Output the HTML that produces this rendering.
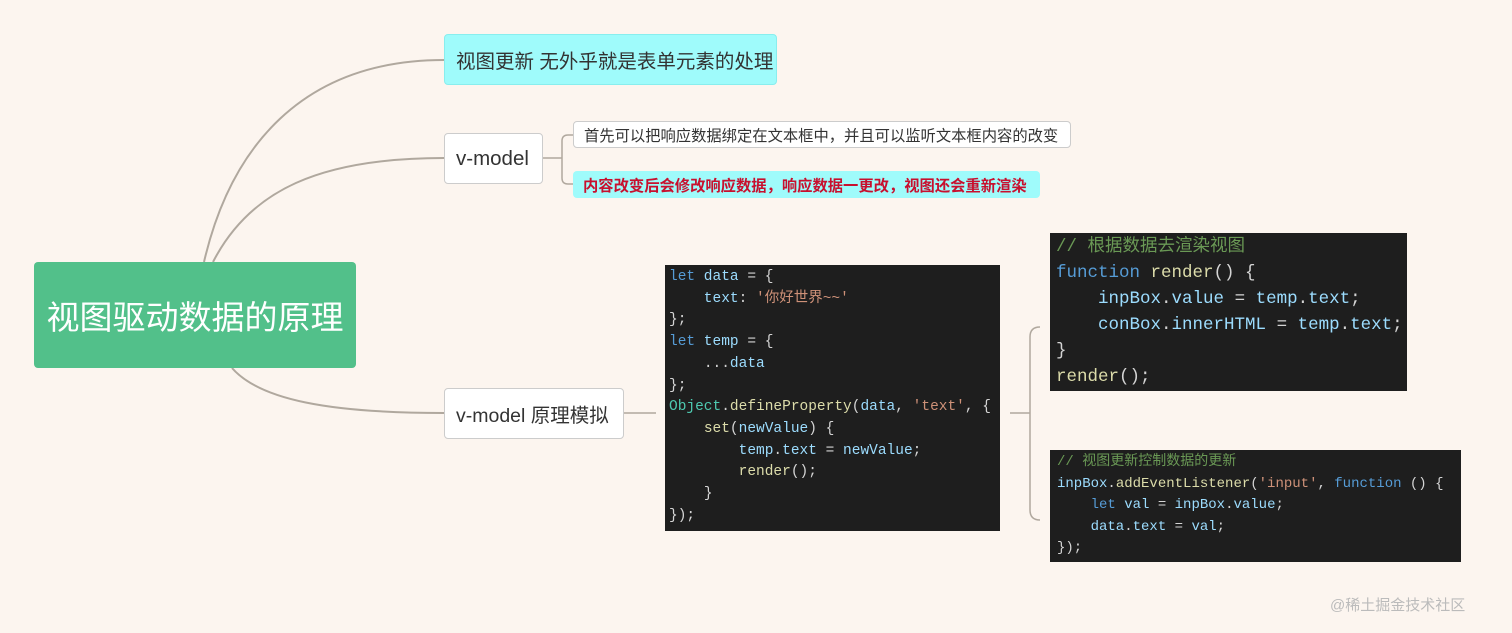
<!DOCTYPE html>
<html><head><meta charset="utf-8"><style>
body{margin:0;width:1512px;height:633px;background:#fcf5ef;position:relative;overflow:hidden;font-family:"Liberation Sans","Noto Sans CJK SC",sans-serif}
.n{position:absolute;box-sizing:border-box;border-radius:4px;display:flex;align-items:center;color:#333;white-space:nowrap}
.code{position:absolute;background:#1e1e1e;font-family:"Liberation Mono","Noto Sans CJK SC",monospace;color:#9cdcfe;white-space:pre;box-sizing:border-box}
.k{color:#569cd6}.s{color:#ce9178}.f{color:#dcdcaa}.c{color:#6a9955}.w{color:#d4d4d4}.t{color:#4ec9b0}
</style></head><body>
<svg width="1512" height="633" style="position:absolute;left:0;top:0" fill="none" stroke="#b0a89e" stroke-width="2">
<path d="M204 262 C230 150 300 60 444 60"/>
<path d="M213 262 C250 190 320 158 444 158"/>
<path d="M232 368 C260 400 330 413 444 413"/>
<path d="M543 158 H562 M573 135 H568 Q562 135 562 141 V178 Q562 184 568 184 H573" stroke-width="1.5"/>
<path d="M624 413 H656" stroke-width="1.5"/>
<path d="M1010 413 H1030 M1040 327 Q1030 327 1030 337 V510 Q1030 520 1040 520" stroke-width="1.5"/>
</svg>
<div class="n" style="left:34px;top:262px;width:322px;height:106px;background:#52c08a;color:#fff;font-size:33px;justify-content:center">视图驱动数据的原理</div>
<div class="n" style="left:444px;top:34px;width:333px;height:51px;background:#9ffbfb;border:1px solid #8ee;font-size:19.5px;padding-left:11px">视图更新 无外乎就是表单元素的处理</div>
<div class="n" style="left:444px;top:133px;width:99px;height:51px;background:#fff;border:1px solid #ccc;font-size:20.5px;padding-left:11px">v-model</div>
<div class="n" style="left:573px;top:121px;width:498px;height:27px;background:#fff;border:1px solid #ccc;font-size:15.3px;padding-left:10px">首先可以把响应数据绑定在文本框中，并且可以监听文本框内容的改变</div>
<div class="n" style="left:573px;top:171px;width:467px;height:27px;background:#9ffbfb;font-size:15.3px;padding-left:10px;color:#c8102e;font-weight:bold">内容改变后会修改响应数据，响应数据一更改，视图还会重新渲染</div>
<div class="n" style="left:444px;top:388px;width:180px;height:51px;background:#fff;border:1px solid #ccc;font-size:19.5px;padding-left:11px">v-model 原理模拟</div>
<div class="code" style="left:665px;top:265px;width:335px;height:266px;font-size:14.5px;line-height:21.7px;padding:2px 0 0 4px"><span class="k">let</span> data <span class="w">= {</span>
    text<span class="w">:</span> <span class="s">'你好世界~~'</span>
<span class="w">};</span>
<span class="k">let</span> temp <span class="w">= {</span>
    <span class="w">...</span>data
<span class="w">};</span>
<span class="t">Object</span><span class="w">.</span><span class="f">defineProperty</span><span class="w">(</span>data<span class="w">,</span> <span class="s">'text'</span><span class="w">, {</span>
    <span class="f">set</span><span class="w">(</span>newValue<span class="w">) {</span>
        temp<span class="w">.</span>text <span class="w">=</span> newValue<span class="w">;</span>
        <span class="f">render</span><span class="w">();</span>
    <span class="w">}</span>
<span class="w">});</span></div>
<div class="code" style="left:1050px;top:233px;width:357px;height:158px;font-size:17.5px;line-height:26px;padding:1px 0 0 6px"><span class="c">// 根据数据去渲染视图</span>
<span class="k">function</span> <span class="f">render</span><span class="w">() {</span>
    inpBox<span class="w">.</span>value <span class="w">=</span> temp<span class="w">.</span>text<span class="w">;</span>
    conBox<span class="w">.</span>innerHTML <span class="w">=</span> temp<span class="w">.</span>text<span class="w">;</span>
<span class="w">}</span>
<span class="f">render</span><span class="w">();</span></div>
<div class="code" style="left:1050px;top:450px;width:411px;height:112px;font-size:14px;line-height:21.5px;padding:2px 0 0 7px"><span class="c">// 视图更新控制数据的更新</span>
inpBox<span class="w">.</span><span class="f">addEventListener</span><span class="w">(</span><span class="s">'input'</span><span class="w">,</span> <span class="k">function</span> <span class="w">() {</span>
    <span class="k">let</span> val <span class="w">=</span> inpBox<span class="w">.</span>value<span class="w">;</span>
    data<span class="w">.</span>text <span class="w">=</span> val<span class="w">;</span>
<span class="w">});</span></div>
<div style="position:absolute;left:1330px;top:594px;font-size:15px;color:#bbb">@稀土掘金技术社区</div>
</body></html>
